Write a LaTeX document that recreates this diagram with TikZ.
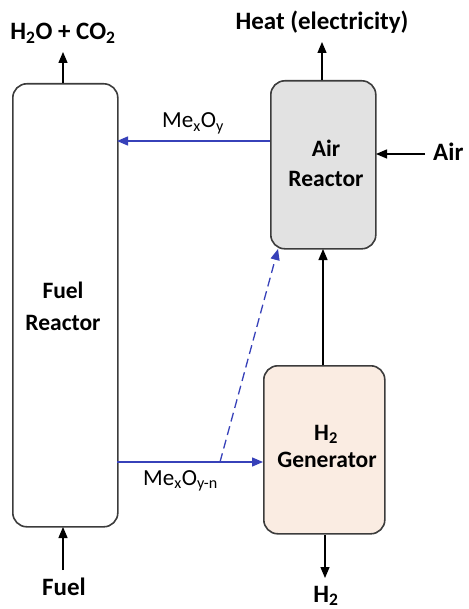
\documentclass[tikz,border=0pt]{standalone}
\usepackage{fontspec}
\setmainfont{Carlito}
\usetikzlibrary{arrows.meta}
\definecolor{flowblue}{RGB}{55,65,185}
\definecolor{peach}{RGB}{250,236,226}
\definecolor{airgray}{RGB}{226,226,226}
\definecolor{edgegray}{RGB}{60,60,60}
\begin{document}
\begin{tikzpicture}[x=1pt,y=-1pt,
  reactor/.style={draw=edgegray,line width=1.6pt,rounded corners=14pt},
  boxlbl/.style={font=\fontsize{23.5}{28}\selectfont\bfseries,inner sep=0pt,anchor=base},
  outlbl/.style={font=\fontsize{25}{30}\selectfont\bfseries,inner sep=0pt,anchor=base},
  flab/.style={font=\fontsize{23}{27}\selectfont,inner sep=0pt,anchor=base west},
  flow/.style={line width=1.3pt,-{Triangle[length=11pt,width=9pt]}},
  bflow/.style={flow,draw=flowblue,-{Triangle[length=11pt,width=9pt,fill=flowblue]}}]
\useasboundingbox (0,0) rectangle (468,609);
% boxes
\node[reactor,fill=white,minimum width=105pt,minimum height=443pt,anchor=north west] (fr) at (12,83) {};
\node[reactor,fill=airgray,minimum width=105pt,minimum height=168pt,anchor=north west] (ar) at (270,80) {};
\node[reactor,fill=peach,minimum width=121pt,minimum height=168pt,anchor=north west] (hg) at (263,365) {};
% box labels
\node[boxlbl] (fr1) at (63,298) {Fuel};
\node[boxlbl] (fr2) at (63,330) {Reactor};
\node[boxlbl] (ar1) at (326,157) {Air};
\node[boxlbl] (ar2) at (326,187) {Reactor};
\node[boxlbl] (hg1) at (326,440) {H\textsubscript{2}};
\node[boxlbl] (hg2) at (327,467) {Generator};
% outside labels
\node[outlbl] (out1) at (63,40) {H\textsubscript{2}O + CO\textsubscript{2}};
\node[outlbl] (heat) at (322,30) {Heat (electricity)};
\node[outlbl,anchor=base west] (air) at (433,161) {Air};
\node[outlbl] (fuel) at (64,595) {Fuel};
\node[outlbl] (h2) at (326,602) {H\textsubscript{2}};
% coordinates
\coordinate (frtop) at (63,83);
\coordinate (c1) at (63,52);
\coordinate (artop) at (322,80);
\coordinate (c2) at (322,42);
\coordinate (c3) at (425,154);
\coordinate (arright) at (376,154);
\coordinate (c4) at (63,570);
\coordinate (frbot) at (63,527);
\coordinate (hgbot) at (325,535);
\coordinate (c5) at (325,578);
\coordinate (hgtop) at (323,365);
\coordinate (arbot) at (323,249);
\coordinate (arleft) at (270,141);
\coordinate (frright1) at (117,141);
\coordinate (frright2) at (117,462);
\coordinate (hgleft) at (263,462);
\coordinate (split) at (220,462);
\coordinate (archit) at (278,249);
% arrows
\draw[flow] (frtop) -- (c1);
\draw[flow] (artop) -- (c2);
\draw[flow] (c3) -- (arright);
\draw[flow] (c4) -- (frbot);
\draw[flow] (hgbot) -- (c5);
\draw[flow] (hgtop) -- (arbot);
\draw[bflow] (arleft) -- (frright1);
\draw[bflow] (frright2) -- (hgleft);
\draw[bflow,dash pattern=on 9pt off 5pt] (split) -- (archit);
\node[flab] (lab1) at (162,128) {Me\textsubscript{x}O\textsubscript{y}};
\node[flab] (lab2) at (143,485) {Me\textsubscript{x}O\textsubscript{y-n}};
\end{tikzpicture}
\end{document}
